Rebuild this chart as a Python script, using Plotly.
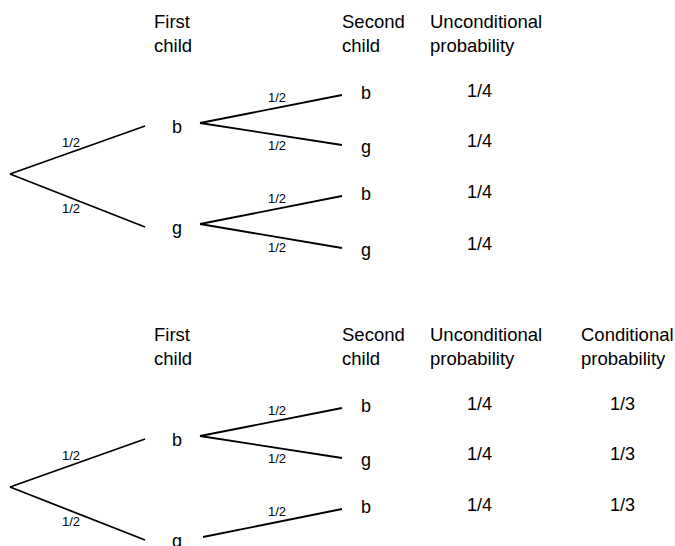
import plotly.graph_objects as go

# tree contents
first_child = ["b", "g"]
second_child = [["b", "g"], ["b", "g"]]
branch_prob = "1/2"
uncond_prob = ["1/4", "1/4", "1/4", "1/4"]
cond_prob = ["1/3", "1/3", "1/3"]
headers_top = ["First<br>child", "Second<br>child", "Unconditional<br>probability"]
headers_bottom = ["First<br>child", "Second<br>child", "Unconditional<br>probability",
                  "Conditional<br>probability"]

# layout of the drawing (page pixel space)
ROOT_X, FIRST_X, FIRST_LBL_X, SPLIT_X, SECOND_X, SECOND_LBL_X = 10, 145, 177, 200, 342, 366
UNCOND_X, COND_X = 479, 622
HEADER_X = [152, 340, 428, 579]
ROOT_Y = 174
FIRST_Y = [126, 227]
SECOND_Y = [[95, 145], [196, 248]]
TREE_OFFSET = [0, 313]

W, H = 675, 546

LINE = dict(color="black", width=1.8)
FONT = "Liberation Sans, Arial, sans-serif"

fig = go.Figure()
ann = []


def text(x, y, s, size, xanchor="center"):
    ann.append(dict(x=x, y=y, text=s, showarrow=False, xanchor=xanchor, yanchor="middle",
                    align="left", font=dict(size=size, color="black", family=FONT)))


def draw_tree(dy, n_leaves, headers, cols):
    hy = 33 + dy
    for hx, h in zip(HEADER_X, headers):
        text(hx, hy, h, 18.5, xanchor="left")
    leaf = 0
    for i, fc in enumerate(first_child):
        fy = FIRST_Y[i] + dy
        ry = ROOT_Y + dy
        fig.add_trace(go.Scatter(x=[ROOT_X, FIRST_X], y=[ry, fy], mode="lines", line=LINE,
                                 hoverinfo="skip", showlegend=False))
        mx, my = (ROOT_X + FIRST_X) / 2 - 7, (ry + fy) / 2 + (-8 if i == 0 else 8)
        text(mx, my, branch_prob, 13)
        text(FIRST_LBL_X, fy + 1, fc, 18)
        for j, sc in enumerate(second_child[i]):
            if leaf >= n_leaves:
                break
            sy = SECOND_Y[i][j] + dy
            sx0 = SPLIT_X + (3 if (dy and i == 1) else 0)
            fig.add_trace(go.Scatter(x=[sx0, SECOND_X], y=[fy - 3, sy], mode="lines", line=LINE,
                                     hoverinfo="skip", showlegend=False))
            mx, my = (SPLIT_X + SECOND_X) / 2 + 6, (fy - 3 + sy) / 2 + (-12 if j == 0 else 11)
            text(mx, my, branch_prob, 13)
            text(SECOND_LBL_X, sy + (-2 if sc == "b" else 2), sc, 18)
            for cx, vals in cols:
                text(cx, sy - 4, vals[leaf], 18)
            leaf += 1


draw_tree(TREE_OFFSET[0], 4, headers_top, [(UNCOND_X, uncond_prob)])
draw_tree(TREE_OFFSET[1], 3, headers_bottom, [(UNCOND_X, uncond_prob), (COND_X, cond_prob)])

fig.update_layout(
    width=W, height=H,
    margin=dict(l=0, r=0, t=0, b=0),
    paper_bgcolor="white", plot_bgcolor="white",
    annotations=ann,
    xaxis=dict(range=[0, W], visible=False, fixedrange=True),
    yaxis=dict(range=[H, 0], visible=False, fixedrange=True),
)

# drop the default page margin so the figure fills the window
fig.write_html("out.html", config={"displayModeBar": False},
               post_script="document.body.style.margin = '0';")
